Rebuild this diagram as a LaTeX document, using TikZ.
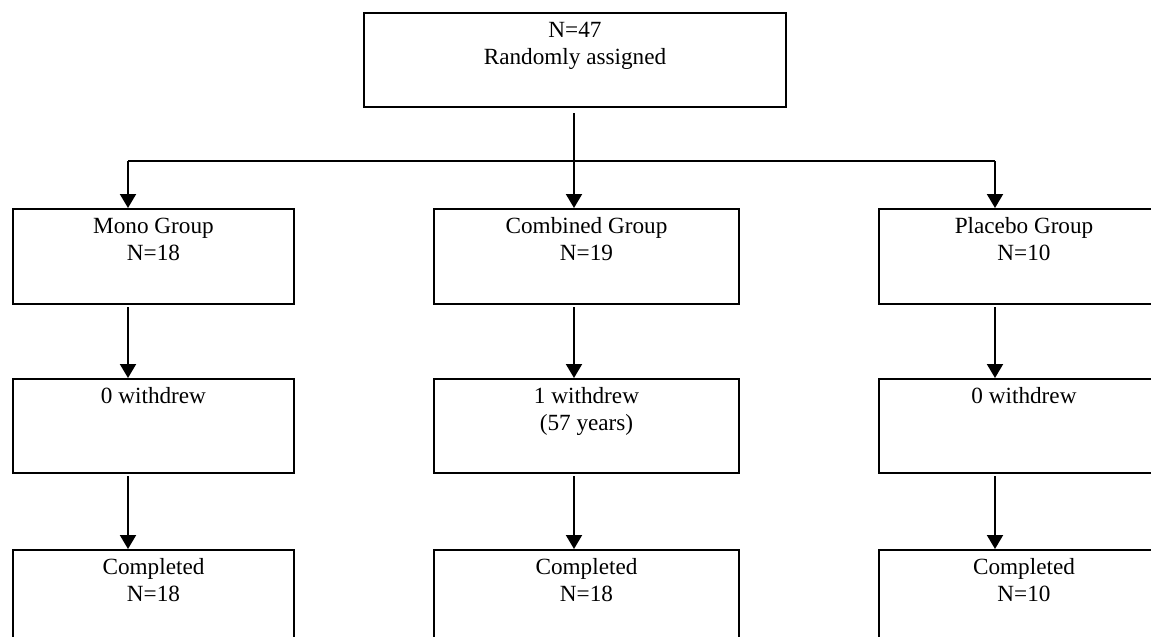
\documentclass[tikz,border=0pt]{standalone}
\usepackage{fontspec}
\setmainfont{Liberation Serif}
\usetikzlibrary{arrows.meta}
\newcommand{\cell}[3]{\parbox[t][#2][t]{#1}{\centering\rule{0pt}{12pt}#3}}

\begin{document}
\begin{tikzpicture}[x=0.5pt, y=-0.5pt,
    box/.style={draw, line width=1pt, inner sep=0pt, anchor=north west,
      font=\fontsize{11.6pt}{13.5pt}\selectfont},
    arr/.style={line width=1pt, -{Triangle[width=8pt,length=7pt]}}]
    \useasboundingbox (0,0) rectangle (1151,637);

    % 上の箱
    \node[box] (N) at (363,12) {\cell{211pt}{47pt}{N=47\\Randomly assigned}};

    % グループ
    \node[box] (M1) at (12,208) {\cell{140.5pt}{47.5pt}{Mono Group\\N=18}};
    \node[box] (C1) at (433,208) {\cell{152.5pt}{47.5pt}{Combined Group\\N=19}};
    \node[box] (P1) at (878,208) {\cell{145pt}{47.5pt}{Placebo Group\\N=10}};

    % 脱落
    \node[box] (M2) at (12,378) {\cell{140.5pt}{47pt}{0 withdrew}};
    \node[box] (C2) at (433,378) {\cell{152.5pt}{47pt}{1 withdrew\\(57 years)}};
    \node[box] (P2) at (878,378) {\cell{145pt}{47pt}{0 withdrew}};

    % 完了
    \node[box] (M3) at (12,549) {\cell{140.5pt}{47.5pt}{Completed\\N=18}};
    \node[box] (C3) at (433,549) {\cell{152.5pt}{47.5pt}{Completed\\N=18}};
    \node[box] (P3) at (878,549) {\cell{145pt}{47.5pt}{Completed\\N=10}};

    % 矢印の列
    \coordinate (cM) at (128,161);
    \coordinate (cC) at (574,161);
    \coordinate (cP) at (995,161);

    % 矢印
    \draw[arr, shorten <=2.5pt] (N.south -| cC) -- (C1.north -| cC);
    \draw[line width=1pt] (cM) -- (cP);
    \draw[arr] (cM) -- (M1.north -| cM);
    \draw[arr] (cP) -- (P1.north -| cP);

    \draw[arr, shorten <=1pt] (M1.south -| cM) -- (M2.north -| cM);
    \draw[arr, shorten <=1pt] (C1.south -| cC) -- (C2.north -| cC);
    \draw[arr, shorten <=1pt] (P1.south -| cP) -- (P2.north -| cP);

    \draw[arr, shorten <=1pt] (M2.south -| cM) -- (M3.north -| cM);
    \draw[arr, shorten <=1pt] (C2.south -| cC) -- (C3.north -| cC);
    \draw[arr, shorten <=1pt] (P2.south -| cP) -- (P3.north -| cP);
  \end{tikzpicture}
\end{document}
